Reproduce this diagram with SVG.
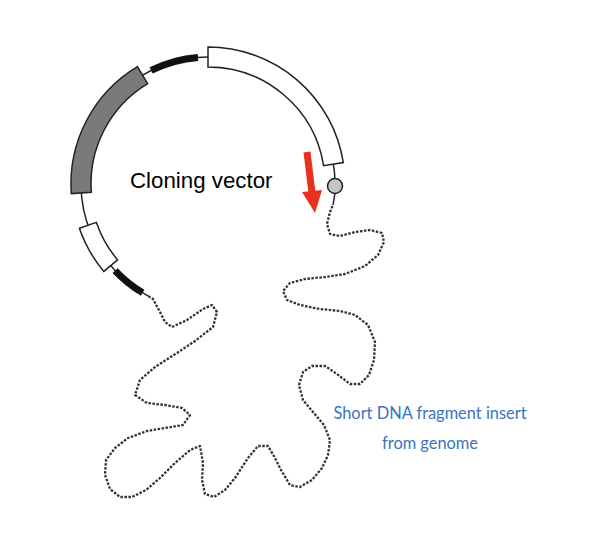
<svg xmlns="http://www.w3.org/2000/svg" width="600" height="546" viewBox="0 0 600 546">
<style>
.ln{fill:none;stroke:#222;stroke-width:1.5}
.box{stroke:#222;stroke-width:1.5}
.blk{fill:none;stroke:#111;stroke-width:7}
.dot{fill:none;stroke:#333;stroke-width:2.3;stroke-dasharray:2.5 1.5;stroke-linejoin:round;stroke-linecap:butt}
</style>
<rect width="600" height="546" fill="#fff"/>
<g id="vector">
<path class="ln" d="M148.4,296.1 A127 127 0 1 1 335,184"/>
<path class="blk" d="M151.1,70.4 A127 127 0 0 1 198,57.4"/>
<path class="blk" d="M115.1,270.6 A127 127 0 0 0 142.6,292.8"/>
<path class="box" fill="#fff" d="M208,47 A137 137 0 0 1 343.3,162.6 L323.6,165.7 A117 117 0 0 0 208,67 Z"/>
<path class="box" fill="#7a7a7a" d="M71.3,193.6 A137 137 0 0 1 137.4,66.6 L147.7,83.7 A117 117 0 0 0 91.3,192.2 Z"/>
<path class="box" fill="#fff" d="M79.4,228.3 A136 136 0 0 0 103.8,271.4 L117.6,259.9 A118 118 0 0 1 96.4,222.4 Z"/>
<path class="ln" d="M335,193 L333,205"/>
<circle cx="335" cy="186" r="7.5" fill="#c4c4c4" stroke="#222" stroke-width="1.5"/>
<text x="130" y="188" font-family="Liberation Sans, Arial, sans-serif" font-size="22.3" fill="#000">Cloning vector</text>
</g>
<g id="arrow">
<line x1="307" y1="152" x2="312" y2="193" stroke="#e8321e" stroke-width="7"/>
<polygon points="302,192 322,190 315,213" fill="#e8321e"/>
</g>
<g id="connectors">
<path class="dot" d="M148.4,296.1 L153,299 L160,312 L165,322 L172,327 L187,320 L203,309 L212,305 L217,312 L213,327 L195,341 L177,353 L155,367 L140,380 L135,395 L147,403 L165,405 L182,408 L190,415 L183,425 L165,428 L147,431 L128,438 L115,448 L106,460 L105,475 L110,489 L120,497 L132,497 L146,490 L160,478 L175,463 L190,450 L200,446 L203,463 L202,480 L205,494 L214,497 L225,490 L235,478 L248,458 L258,446 L268,446 L275,458 L281,470 L290,485 L300,487 L312,480 L322,468 L328,455 L330,440 L324,425 L313,412 L303,400 L299,385 L303,372 L312,366 L325,366 L337,374 L350,384 L360,384 L369,375 L374,360 L375,342 L368,325 L355,315 L340,311 L320,309 L300,305 L287,300 L283,291 L290,283 L305,279 L325,277 L345,274 L365,266 L378,255 L384,242 L382,233 L370,230 L355,232 L340,236 L330,234 L327,224 L330,212 L333,205"/>
</g>
<g id="label" font-family="Lato, sans-serif" font-size="16.4" fill="#3a72c0" text-anchor="middle">
<text x="430" y="419">Short DNA fragment insert</text>
<text x="430" y="449">from genome</text>
</g>
</svg>
